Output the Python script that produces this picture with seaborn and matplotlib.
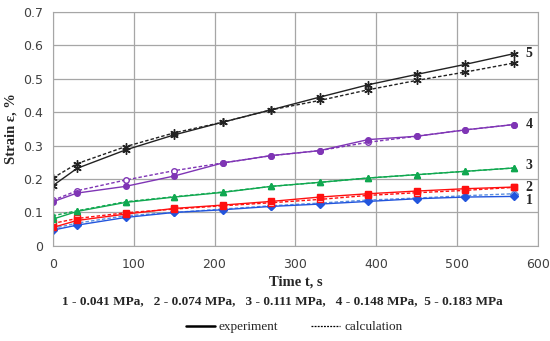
import seaborn as sns
import matplotlib.pyplot as plt
import pandas as pd
from matplotlib.lines import Line2D

t = [0, 30, 90, 150, 210, 270, 330, 390, 450, 510, 570]

exp1 = [0.047, 0.062, 0.085, 0.100, 0.108, 0.118, 0.125, 0.133, 0.141, 0.146, 0.148]
calc1 = [0.052, 0.068, 0.090, 0.100, 0.110, 0.120, 0.128, 0.137, 0.143, 0.150, 0.156]
exp2 = [0.055, 0.076, 0.095, 0.112, 0.122, 0.133, 0.146, 0.156, 0.164, 0.171, 0.176]
calc2 = [0.067, 0.082, 0.099, 0.110, 0.120, 0.129, 0.139, 0.151, 0.159, 0.166, 0.175]
exp3 = [0.080, 0.103, 0.130, 0.146, 0.160, 0.178, 0.190, 0.203, 0.213, 0.223, 0.233]
calc3 = [0.090, 0.105, 0.132, 0.147, 0.161, 0.178, 0.190, 0.203, 0.213, 0.223, 0.233]
exp4 = [0.132, 0.158, 0.178, 0.209, 0.248, 0.270, 0.285, 0.318, 0.328, 0.347, 0.363]
calc4 = [0.136, 0.165, 0.197, 0.225, 0.248, 0.270, 0.285, 0.310, 0.328, 0.347, 0.363]
exp5 = [0.180, 0.232, 0.287, 0.332, 0.370, 0.407, 0.445, 0.482, 0.513, 0.543, 0.575]
calc5 = [0.203, 0.246, 0.297, 0.338, 0.370, 0.407, 0.435, 0.467, 0.495, 0.520, 0.547]

labels = ['1', '2', '3', '4', '5']
legend_text = '1 - 0.041 MPa,   2 - 0.074 MPa,   3 - 0.111 MPa,   4 - 0.148 MPa,  5 - 0.183 MPa'

# colour, exp marker, calc marker, calc filled?, calc colour
styles = [
    ('#2255DD', 'D', 'D', False, '#5B8FE0'),
    ('#FF1010', 's', 's', False, '#FF1010'),
    ('#10A850', '^', '^', True, '#10A850'),
    ('#7F35B5', 'o', 'o', False, '#7F35B5'),
    ('#222222', (6, 2, 0), (6, 2, 0), True, '#222222'),
]
exps = [exp1, exp2, exp3, exp4, exp5]
calcs = [calc1, calc2, calc3, calc4, calc5]
label_dy = [-0.012, 0.0, 0.007, 0.0, 0.0]

sns.set_style('white')
serif = ['Liberation Serif', 'DejaVu Serif']
fig = plt.figure(figsize=(5.5, 3.41), dpi=100)
ax = fig.add_axes([0.096, 0.279, 0.882, 0.686])

for i in range(5):
    col, m_e, m_c, fill_c, col_c = styles[i]
    star = i == 4
    ms = 6 if star else 4
    sns.lineplot(x=t, y=calcs[i], ax=ax, color=col_c, linestyle=(0, (2.5, 1.5)), lw=1.0,
                 marker=m_c, markersize=ms, markerfacecolor=col_c if fill_c else 'white',
                 markeredgecolor=col_c, markeredgewidth=1.0)
    sns.lineplot(x=t, y=exps[i], ax=ax, color=col, lw=1.0,
                 marker=m_e, markersize=ms, markerfacecolor=col,
                 markeredgecolor=col, markeredgewidth=1.0)
    ax.text(585, exps[i][-1] + label_dy[i], labels[i], fontfamily=serif, fontweight='bold',
            fontsize=10, va='center', ha='left', clip_on=False)

ax.set_xlim(0, 600)
ax.set_ylim(0, 0.7)
ax.set_xticks(range(0, 601, 100))
ax.set_yticks([0, 0.1, 0.2, 0.3, 0.4, 0.5, 0.6, 0.7])
ax.set_yticklabels(['0', '0.1', '0.2', '0.3', '0.4', '0.5', '0.6', '0.7'])
ax.grid(True, color='#a6a6a6', lw=0.9)
for s in ax.spines.values():
    s.set_color('#a6a6a6')
ax.tick_params(axis='y', length=0, labelsize=9, colors='#404040', pad=7)
ax.tick_params(axis='x', length=0, labelsize=9, colors='#404040', pad=9)
ax.set_xlabel('Time t, s', fontfamily=serif, fontweight='bold', fontsize=10.5, labelpad=3)
ax.set_ylabel('Strain ε, %', fontfamily=serif, fontweight='bold', fontsize=10.5, labelpad=4)

fig.text(0.513, 0.118, legend_text, fontfamily=serif, fontweight='bold', fontsize=9.5,
         ha='center', va='center')
handles = [Line2D([], [], color='black', lw=1.8), Line2D([], [], color='black', lw=0.9, linestyle=(0, (1.5, 1)))]
fig.legend(handles, ['experiment', 'calculation'], loc='center', bbox_to_anchor=(0.535, 0.04),
           ncol=2, frameon=False, prop={'family': serif, 'size': 9.5}, handlelength=2.2,
           handletextpad=0.3, columnspacing=2.5)

fig.savefig('out.png', dpi=100)
